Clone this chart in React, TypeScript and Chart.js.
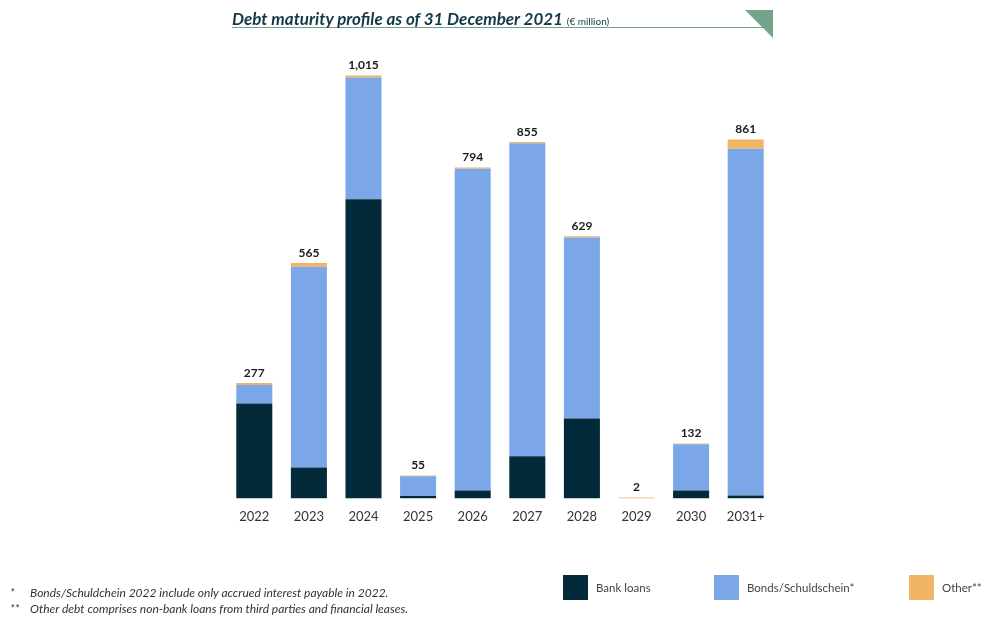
import React, { useEffect, useRef } from "react";
import { Chart, registerables } from "chart.js";

Chart.register(...registerables);

const categories = ["2022", "2023", "2024", "2025", "2026", "2027", "2028", "2029", "2030", "2031+"];
const bankLoans = [228, 74, 718, 6, 19, 101, 192, 0, 19, 7];
const bonds = [44, 482, 292, 47, 772, 751, 434, 0, 111, 832];
const other = [5, 9, 5, 2, 3, 3, 3, 2, 2, 22];
const totals = [277, 565, 1015, 55, 794, 855, 629, 2, 132, 861];

const seriesNames = ["Bank loans", "Bonds/Schuldschein*", "Other**"];
const seriesColors = ["#022a3b", "#7ba7e9", "#f0b465"];
const footnotes = [
  ["*", "Bonds/Schuldchein 2022 include only accrued interest payable in 2022."],
  ["**", "Other debt comprises non-bank loans from third parties and financial leases."],
];

const FONT = "Lato, 'Open Sans', sans-serif";

const totalsPlugin = {
  id: "totals",
  afterDatasetsDraw(chart: any) {
    const ctx = chart.ctx;
    const meta = chart.getDatasetMeta(2);
    ctx.save();
    ctx.font = `bold 12px ${FONT}`;
    ctx.fillStyle = "#1a1a1a";
    ctx.textAlign = "center";
    ctx.textBaseline = "bottom";
    meta.data.forEach((el: any, i: number) => {
      ctx.fillText(totals[i].toLocaleString("en-US"), el.x, el.y - 4);
    });
    ctx.restore();
  },
};

export default function App() {
  const ref = useRef<HTMLCanvasElement>(null);
  useEffect(() => {
    document.body.style.margin = "0";
    const chart = new Chart(ref.current!, {
      type: "bar",
      data: {
        labels: categories,
        datasets: [
          { label: seriesNames[0], data: bankLoans, backgroundColor: seriesColors[0] },
          { label: seriesNames[1], data: bonds, backgroundColor: seriesColors[1] },
          { label: seriesNames[2], data: other, backgroundColor: seriesColors[2] },
        ].map((d) => ({ ...d, barPercentage: 0.66, categoryPercentage: 1, borderWidth: 0 })),
      },
      options: {
        responsive: false,
        animation: false,
        layout: { padding: { left: 227, right: 213, top: 40, bottom: 89 } },
        plugins: { legend: { display: false }, tooltip: { enabled: false } },
        scales: {
          x: {
            stacked: true,
            grid: { display: false },
            border: { display: false },
            ticks: { color: "#333", font: { family: FONT, size: 13 }, padding: 3 },
          },
          y: { stacked: true, display: false, min: 0, max: 1100 },
        },
      },
      plugins: [totalsPlugin],
    });
    return () => chart.destroy();
  }, []);

  const legendX = [563, 714, 909];
  return (
    <div style={{ position: "relative", width: 986, height: 617, background: "#fff", fontFamily: FONT, overflow: "hidden" }}>
      <canvas ref={ref} width={986} height={617} style={{ position: "absolute", left: 0, top: 0 }} />
      <div
        style={{
          position: "absolute",
          left: 232,
          top: 8,
          width: 538,
          height: 19,
          borderBottom: "1px solid #6fa38a",
          color: "#153848",
          fontStyle: "italic",
          fontWeight: 700,
          fontSize: 17,
          lineHeight: "22px",
          whiteSpace: "nowrap",
        }}
      >
        Debt maturity profile as of 31 December 2021{" "}
        <span style={{ fontSize: 10, fontWeight: 400, fontStyle: "normal" }}>(€ million)</span>
      </div>
      <svg style={{ position: "absolute", left: 745, top: 10 }} width={28} height={28}>
        <polygon points="0,0 28,0 28,28" fill="#74a58c" />
      </svg>
      {seriesNames.map((n, i) => (
        <div key={n} style={{ position: "absolute", left: legendX[i], top: 575, display: "flex", alignItems: "center" }}>
          <div style={{ width: 25, height: 25, background: seriesColors[i] }} />
          <span style={{ marginLeft: 8, fontSize: 11.5, color: "#444" }}>{n}</span>
        </div>
      ))}
      {footnotes.map((f, i) => (
        <div key={i} style={{ position: "absolute", left: 10, top: 585 + i * 16, fontSize: 12, fontStyle: "italic", color: "#333", whiteSpace: "nowrap" }}>
          <span style={{ display: "inline-block", width: 20 }}>{f[0]}</span>
          {f[1]}
        </div>
      ))}
    </div>
  );
}
